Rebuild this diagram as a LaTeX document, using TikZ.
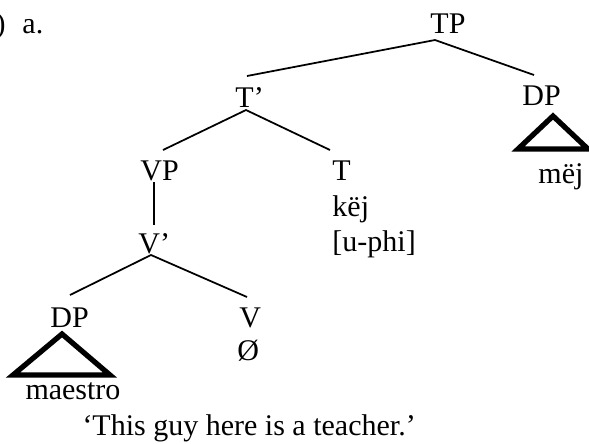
\documentclass[tikz,border=0pt]{standalone}
\usepackage{fontspec}
\setmainfont{Liberation Serif}

\begin{document}
\begin{tikzpicture}[
  x=0.4pt, y=-0.4pt,
  every node/.style={font=\fontsize{12}{14}\selectfont, inner sep=0pt, anchor=base west},
  branch/.style={line width=0.7pt},
  roof/.style={line width=2.1pt, line join=miter},
]
  \useasboundingbox (0,0) rectangle (589,443);

  % labels
  \node[anchor=base east] (exnum) at (6,33) {)};
  \node (exlabel) at (22,33) {a.};
  \node (TP) at (430,33) {TP};
  \node (Tbar) at (235,107) {T’};
  \node (DPsubj) at (522,105) {DP};
  \node (mej) at (538,183) {mëj};
  \node (VP) at (140,180) {VP};
  \node (T) at (332,180) {T};
  \node (kej) at (332,216) {këj};
  \node (uphi) at (332,251) {[u-phi]};
  \node (Vbar) at (138,253) {V’};
  \node (DPobj) at (50,327) {DP};
  \node (V) at (239,327) {V};
  \node (null) at (237,360) {Ø};
  \node (maestro) at (25,399) {maestro};
  \node (gloss) at (82,435) {‘This guy here is a teacher.’};

  % branch ends
  \coordinate (TP-b) at (435,40);
  \coordinate (Tbar-t) at (247,76);
  \coordinate (DPsubj-t) at (534,75);
  \coordinate (Tbar-b) at (246,110);
  \coordinate (VP-t) at (163,150);
  \coordinate (T-t) at (330,150);
  \coordinate (VP-b) at (154,182);
  \coordinate (Vbar-t) at (154,225);
  \coordinate (Vbar-b) at (151,255);
  \coordinate (DPobj-t) at (70,295);
  \coordinate (V-t) at (247,297);

  \draw[branch] (Tbar-t) -- (TP-b) -- (DPsubj-t);
  \draw[branch] (VP-t) -- (Tbar-b) -- (T-t);
  \draw[branch] (VP-b) -- (Vbar-t);
  \draw[branch] (DPobj-t) -- (Vbar-b) -- (V-t);

  % roofs
  \coordinate (roofR-a) at (553,116);
  \coordinate (roofR-l) at (518,149);
  \coordinate (roofR-r) at (588,149);
  \coordinate (roofL-a) at (62,334);
  \coordinate (roofL-l) at (13,375);
  \coordinate (roofL-r) at (110,375);
  \draw[roof] (roofR-a) -- (roofR-l) -- (roofR-r) -- cycle;
  \draw[roof] (roofL-a) -- (roofL-l) -- (roofL-r) -- cycle;
\end{tikzpicture}
\end{document}
